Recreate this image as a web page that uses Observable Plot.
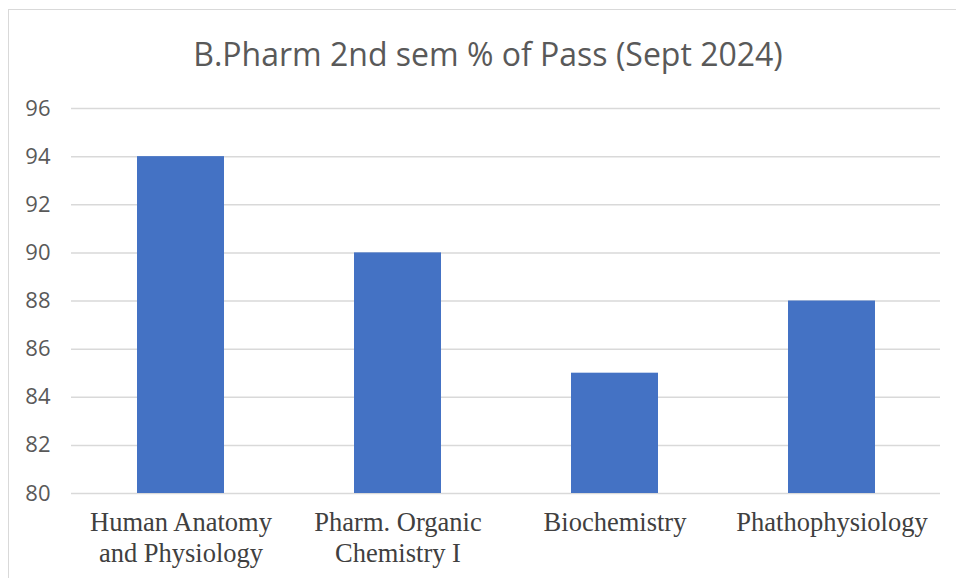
<!DOCTYPE html>
<html>
<head>
<meta charset="utf-8">
<script src="https://cdn.jsdelivr.net/npm/d3@7"></script>
<script src="https://cdn.jsdelivr.net/npm/@observablehq/plot@0.6"></script>
<style>
  html, body { margin: 0; padding: 0; background: #fff; }
  body { width: 956px; height: 578px; position: relative; overflow: hidden; }
  #frame { position: absolute; left: 8px; top: 9px; width: 960px; height: 600px; border: 1.5px solid #d9d9d9; box-sizing: border-box; }
  #title { position: absolute; left: 0; top: 34px; width: 976px; text-align: center; font-family: "Open Sans", sans-serif; font-size: 32px; color: #595959; line-height: 40px; }
  #chart { position: absolute; left: 0; top: 80px; }
</style>
</head>
<body>
<div id="frame"></div>
<div id="title">B.Pharm 2nd sem % of Pass (Sept 2024)</div>
<div id="chart"></div>
<script>
const categories = ["Human Anatomy and Physiology", "Pharm. Organic Chemistry I", "Biochemistry", "Phathophysiology"];
const tickLabels = ["Human Anatomy\nand Physiology", "Pharm. Organic\nChemistry I", "Biochemistry", "Phathophysiology"];
const passPercent = [94, 90, 85, 88];
const yTicks = [80, 82, 84, 86, 88, 90, 92, 94, 96];

const data = categories.map((c, i) => ({category: c, value: passPercent[i]}));
const labelOf = new Map(categories.map((c, i) => [c, tickLabels[i]]));

const chart = Plot.plot({
  width: 956,
  height: 498,
  marginTop: 28,
  marginBottom: 85,
  marginLeft: 71,
  marginRight: 16,
  style: {background: "transparent", overflow: "visible"},
  x: {domain: categories, paddingInner: 0.6, paddingOuter: 0.3, label: null},
  y: {domain: [80, 96], label: null},
  marks: [
    Plot.ruleY(yTicks, {stroke: "#d9d9d9", strokeWidth: 1.5}),
    Plot.barY(data, {x: "category", y1: 80, y2: "value", fill: "#4472C4"}),
    Plot.axisY(yTicks, {tickSize: 0, tickPadding: 21, fontSize: 22, fill: "#595959", fontFamily: "Open Sans", label: null}),
    Plot.axisX({tickSize: 0, tickPadding: 15, tickFormat: d => labelOf.get(d), fontSize: 26.5, fill: "#404040", fontFamily: "Liberation Serif", lineHeight: 1.17, label: null})
  ]
});
document.getElementById("chart").appendChild(chart);
</script>
</body>
</html>
